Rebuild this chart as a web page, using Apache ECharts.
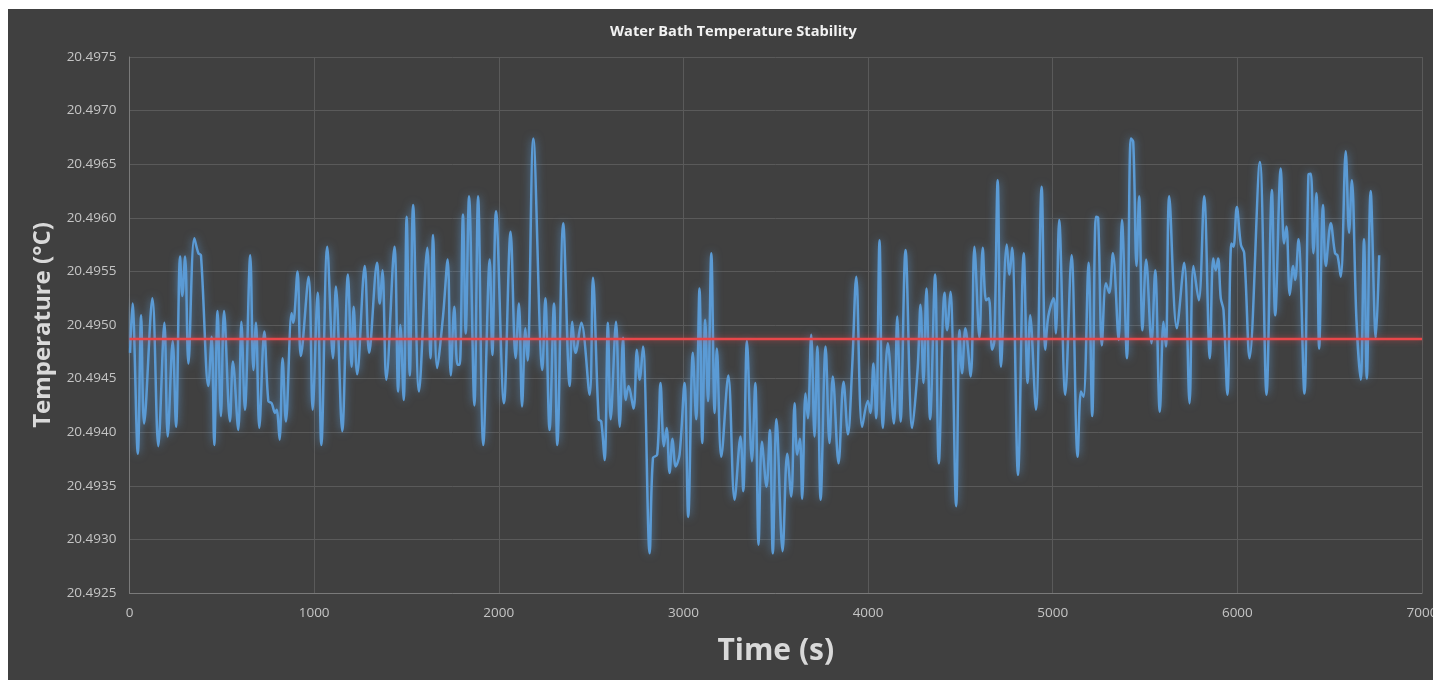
<!DOCTYPE html>
<html>
<head>
<meta charset="utf-8">
<script src="https://cdn.jsdelivr.net/npm/echarts@6/dist/echarts.min.js"></script>
<style>
html,body{margin:0;padding:0;background:#ffffff;width:1433px;height:680px;overflow:hidden;}
#chart{position:absolute;left:8px;top:9px;width:1425px;height:671px;background:#404040;}
</style>
</head>
<body>
<div id="chart"></div>
<script>
const chartTitle = "Water Bath Temperature Stability";
const xAxisTitle = "Time (s)";
const yAxisTitle = "Temperature (°C)";
const setPoint = 20.49487;
const xRange = [0, 7000];
const yTicks = [20.4925, 20.4930, 20.4935, 20.4940, 20.4945, 20.4950, 20.4955, 20.4960, 20.4965, 20.4970, 20.4975];

const times = [
3,16,45,63,79,124,156,189,207,234,252,274,286,301,319,351,373,387,427,445,459,477,495,512,544,560,589,606,625,654,671,685,703,730,752,770,788,797,813,829,847,878,887,910,928,970,992,1019,1039,1071,1102,1118,1152,1183,1203,1214,
1233,1274,1298,1341,1355,1370,1391,1435,1455,1467,1485,1501,1518,1536,1568,1613,1630,1644,1666,1698,1723,1740,1759,1776,1788,1806,1821,1839,1868,1888,1916,1951,1965,1985,2028,2064,2091,2109,2126,2144,2156,2187,2236,2252,2275,2299,2317,2349,2384,2398,2416,
2447,2492,2510,2541,2555,2573,2591,2606,2635,2655,2673,2687,2703,2730,2748,2763,2781,2817,2835,2858,2876,2894,2909,2925,2941,2958,2979,3006,3026,3051,3069,3087,3102,3118,3133,3151,3169,3181,3205,3243,3277,3309,3324,3344,3371,3389,3407,3425,3450,3468,3484,3504,3537,3562,3584,3602,3616,3631,
3643,3661,3674,3692,3710,3725,3743,3770,3791,3809,3840,3867,3891,3914,3936,3968,3999,4013,4029,4044,4062,4080,4107,4140,4158,4176,4203,4239,4269,4284,4300,4316,4336,4363,4383,4414,4428,4446,4477,4495,4509,4527,4556,4576,4603,4621,4639,4654,4672,4684,4702,4720,4751,4766,4780,4812,4843,
4864,4878,4909,4940,4960,4976,5005,5017,5035,5068,5102,5135,5153,5167,5194,5214,5234,5246,5266,5288,5306,5326,5357,5375,5402,5423,5436,5454,5468,5486,5506,5535,5555,5580,5600,5613,5631,5672,5712,5741,5762,5791,5820,5851,5869,5883,5896,5910,5925,5946,5968,5979,5997,6019,6037,6066,
6122,6158,6187,6205,6235,6253,6266,6284,6302,6313,6331,6363,6385,6398,6412,6428,6443,6464,6479,6506,6529,6542,6560,6587,6605,6620,6645,6668,6686,6701,6722,6750,6768
];

const temps = [
20.49474,20.49520,20.49380,20.49509,20.49408,20.49525,20.49387,20.49502,20.49396,20.49485,20.49405,20.49564,20.49527,20.49564,20.49464,20.49581,20.49567,20.49565,20.49443,20.49489,20.49388,20.49513,20.49415,20.49513,20.49410,20.49466,20.49402,20.49503,20.49421,20.49565,20.49458,20.49502,20.49404,20.49494,20.49429,20.49427,20.49418,20.49421,20.49393,20.49469,20.49410,20.49511,20.49502,20.49550,20.49471,20.49545,20.49421,20.49530,20.49388,20.49573,20.49469,20.49536,20.49401,20.49547,20.49461,20.49517,
20.49454,20.49555,20.49474,20.49558,20.49520,20.49551,20.49449,20.49573,20.49438,20.49500,20.49430,20.49601,20.49453,20.49612,20.49438,20.49572,20.49469,20.49584,20.49460,20.49508,20.49561,20.49453,20.49517,20.49463,20.49463,20.49603,20.49492,20.49620,20.49425,20.49620,20.49388,20.49561,20.49472,20.49606,20.49427,20.49587,20.49469,20.49520,20.49424,20.49497,20.49467,20.49674,20.49458,20.49525,20.49402,20.49520,20.49388,20.49595,20.49443,20.49503,20.49474,
20.49502,20.49435,20.49544,20.49412,20.49410,20.49374,20.49502,20.49412,20.49503,20.49405,20.49488,20.49430,20.49443,20.49422,20.49477,20.49449,20.49480,20.49287,20.49376,20.49379,20.49446,20.49387,20.49404,20.49362,20.49394,20.49368,20.49379,20.49446,20.49321,20.49474,20.49412,20.49534,20.49390,20.49505,20.49429,20.49567,20.49418,20.49478,20.49377,20.49453,20.49337,20.49396,20.49345,20.49485,20.49373,20.49446,20.49295,20.49391,20.49349,20.49402,20.49287,20.49412,20.49289,20.49380,20.49340,20.49427,20.49379,20.49394,
20.49338,20.49436,20.49413,20.49491,20.49396,20.49480,20.49337,20.49480,20.49390,20.49452,20.49371,20.49447,20.49398,20.49461,20.49545,20.49405,20.49429,20.49418,20.49464,20.49413,20.49579,20.49404,20.49483,20.49408,20.49508,20.49410,20.49570,20.49404,20.49461,20.49519,20.49446,20.49534,20.49412,20.49547,20.49371,20.49530,20.49495,20.49531,20.49331,20.49495,20.49455,20.49497,20.49452,20.49573,20.49488,20.49572,20.49523,20.49525,20.49477,20.49485,20.49635,20.49461,20.49575,20.49547,20.49572,20.49360,20.49567,
20.49446,20.49509,20.49421,20.49629,20.49477,20.49508,20.49525,20.49492,20.49598,20.49435,20.49565,20.49377,20.49438,20.49433,20.49558,20.49415,20.49601,20.49600,20.49481,20.49539,20.49530,20.49567,20.49486,20.49598,20.49469,20.49674,20.49671,20.49555,20.49620,20.49495,20.49561,20.49483,20.49551,20.49419,20.49503,20.49480,20.49620,20.49497,20.49558,20.49427,20.49555,20.49523,20.49620,20.49469,20.49562,20.49551,20.49562,20.49525,20.49514,20.49435,20.49576,20.49573,20.49610,20.49575,20.49567,20.49469,
20.49652,20.49435,20.49626,20.49509,20.49646,20.49576,20.49592,20.49528,20.49555,20.49542,20.49580,20.49436,20.49640,20.49641,20.49567,20.49623,20.49478,20.49612,20.49555,20.49595,20.49567,20.49565,20.49545,20.49662,20.49586,20.49635,20.49505,20.49449,20.49580,20.49450,20.49625,20.49488,20.49565
];

const lineData = times.map((t, i) => [t, temps[i]]);

const chart = echarts.init(document.getElementById('chart'), null, {renderer: 'canvas'});
const fontFam = '"Open Sans", "Noto Sans", sans-serif';
chart.setOption({
  backgroundColor: '#404040',
  animation: false,
  title: {
    text: chartTitle,
    left: 597, top: 10,
    textStyle: {color: '#f2f2f2', fontSize: 14.6, fontWeight: 'bold', fontFamily: fontFam}
  },
  grid: {left: 121.5, top: 48, right: 11, bottom: 87, containLabel: false, outerBoundsMode: 'none'},
  xAxis: {
    type: 'value', min: xRange[0], max: xRange[1], interval: 1000,
    name: xAxisTitle, nameLocation: 'middle', nameGap: 43,
    nameTextStyle: {color: '#d9d9d9', fontSize: 30, fontWeight: 'bold', fontFamily: fontFam},
    axisLine: {show: true, lineStyle: {color: '#7a7a7a', width: 1}},
    axisTick: {show: false},
    axisLabel: {color: '#c4c4c4', fontSize: 13.5, margin: 13, fontFamily: fontFam,
      formatter: v => String(v)},
    splitLine: {show: true, lineStyle: {color: '#5a5a5a', width: 1}}
  },
  yAxis: {
    type: 'value', min: yTicks[0], max: yTicks[yTicks.length - 1], interval: 0.0005,
    name: yAxisTitle, nameLocation: 'middle', nameGap: 74, nameRotate: 90,
    nameTextStyle: {color: '#d9d9d9', fontSize: 24, fontWeight: 'bold', fontFamily: fontFam},
    axisLine: {show: true, lineStyle: {color: '#7a7a7a', width: 1}},
    axisTick: {show: false},
    axisLabel: {color: '#c4c4c4', fontSize: 13.5, margin: 13, fontFamily: fontFam,
      formatter: v => v.toFixed(4)},
    splitLine: {show: true, lineStyle: {color: '#5a5a5a', width: 1}}
  },
  series: [
    {
      type: 'line', data: lineData, smooth: 0.35, showSymbol: false,
      lineStyle: {color: '#5b9bd5', width: 2.5, shadowColor: 'rgba(91,155,213,0.7)', shadowBlur: 8},
      z: 2
    },
    {
      type: 'line', data: [[xRange[0], setPoint], [xRange[1], setPoint]], showSymbol: false,
      lineStyle: {color: '#e8474a', width: 2.5, shadowColor: 'rgba(232,71,74,0.6)', shadowBlur: 6},
      z: 3
    }
  ]
});
</script>
</body>
</html>
